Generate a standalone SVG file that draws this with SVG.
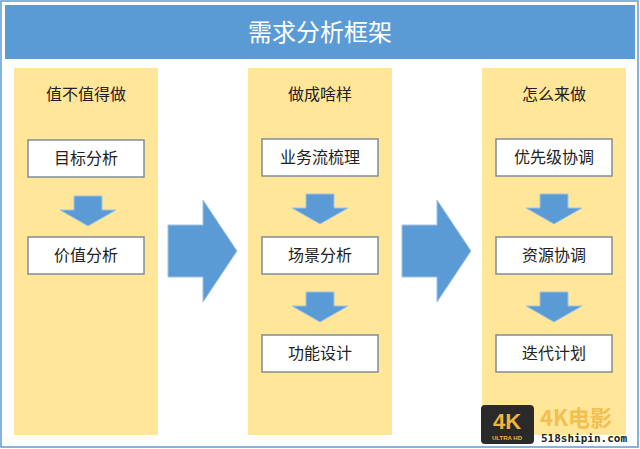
<svg xmlns="http://www.w3.org/2000/svg" width="640" height="449" viewBox="0 0 640 449">
<style>
.col{fill:#FFE699}
.box{fill:#fff;stroke:#7F8C99;stroke-width:1.5}
.t{font-family:"Noto Sans CJK SC",sans-serif;font-size:16px;fill:#222;text-anchor:middle}
.arr{fill:#5B9BD5;stroke:#9DC3E6;stroke-width:1}
</style>
<defs>
<path id="down" d="M-14,0H14V14H28L0,30L-28,14H-14Z"/>
<path id="right" d="M0,25H35V0L69,51L35,102V77H0Z"/>
</defs>
<rect x="1" y="1" width="637" height="446" fill="#fff" stroke="#5B9BD5" stroke-width="1.5"/>
<g id="header"><rect x="5" y="5" width="630" height="54" fill="#5B9BD5"/>
<text x="320" y="41" class="t" style="font-size:24px;fill:#fff">需求分析框架</text></g>
<g id="col1"><rect class="col" x="14" y="68" width="144" height="367"/><text class="t" x="86" y="100">值不值得做</text></g>
<g id="col2"><rect class="col" x="248" y="68" width="144" height="367"/><text class="t" x="320" y="100">做成啥样</text></g>
<g id="col3"><rect class="col" x="482" y="68" width="144" height="367"/><text class="t" x="554" y="100">怎么来做</text></g>
<g id="n1"><rect class="box" x="28" y="140" width="116" height="37"/><text class="t" x="86" y="164">目标分析</text></g>
<g id="n2"><rect class="box" x="28" y="237" width="116" height="37"/><text class="t" x="86" y="261">价值分析</text></g>
<g id="n3"><rect class="box" x="262" y="139" width="116" height="37"/><text class="t" x="320" y="163">业务流梳理</text></g>
<g id="n4"><rect class="box" x="262" y="237" width="116" height="37"/><text class="t" x="320" y="261">场景分析</text></g>
<g id="n5"><rect class="box" x="262" y="335" width="116" height="37"/><text class="t" x="320" y="359">功能设计</text></g>
<g id="n6"><rect class="box" x="496" y="139" width="116" height="37"/><text class="t" x="554" y="163">优先级协调</text></g>
<g id="n7"><rect class="box" x="496" y="237" width="116" height="37"/><text class="t" x="554" y="261">资源协调</text></g>
<g id="n8"><rect class="box" x="496" y="335" width="116" height="37"/><text class="t" x="554" y="359">迭代计划</text></g>
<g id="connectors">
<use href="#down" class="arr" x="88" y="196"/>
<use href="#down" class="arr" x="320" y="194"/>
<use href="#down" class="arr" x="320" y="292"/>
<use href="#down" class="arr" x="554" y="194"/>
<use href="#down" class="arr" x="554" y="292"/>
<use href="#right" class="arr" x="168" y="200"/>
<use href="#right" class="arr" x="402" y="200"/>
</g>
<g id="watermark">
<rect x="481" y="405" width="53" height="39" rx="4" fill="#2a2a2a"/>
<text x="507" y="429" style="font-family:'Liberation Sans',sans-serif;font-weight:bold;font-size:22px;fill:#F2B43A;text-anchor:middle">4K</text>
<text x="507" y="440" style="font-family:'Liberation Sans',sans-serif;font-weight:bold;font-size:6px;fill:#F2B43A;text-anchor:middle">ULTRA HD</text>
<text x="540" y="426" style="font-family:'Noto Sans CJK SC',sans-serif;font-weight:bold;font-size:22px;fill:#F2C050">4K电影</text>
<text x="541" y="442" style="font-family:'DejaVu Sans Mono',monospace;font-weight:bold;font-size:11px;fill:#222">518shipin.com</text>
</g>
</svg>
